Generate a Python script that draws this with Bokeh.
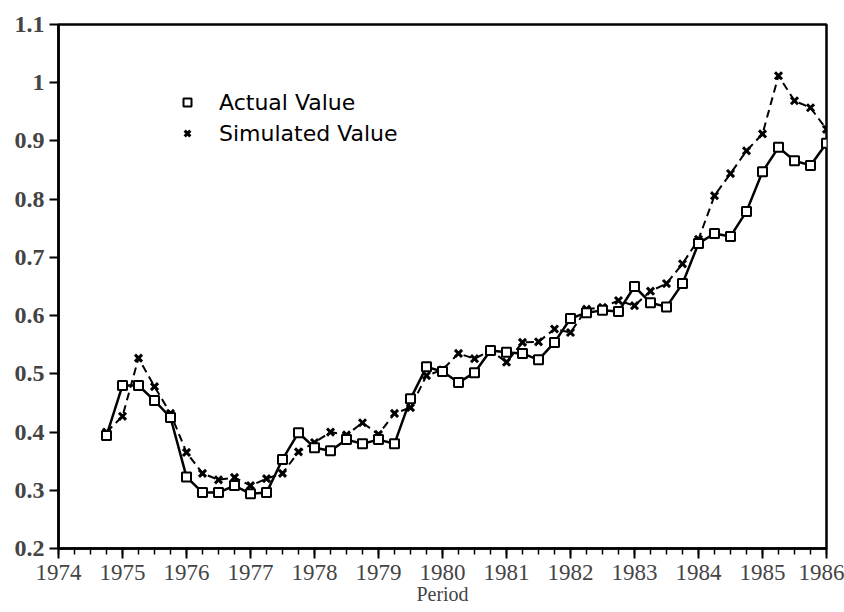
from bokeh.plotting import figure
from bokeh.models import (Range1d, FixedTicker, CustomJSTickFormatter, Legend, LegendItem,
                          ColumnDataSource)
from bokeh.embed import file_html
from bokeh.resources import INLINE

# Quarterly periods (Q4 1974 .. Q1 1986)
period = [1974.75,
          1975.0, 1975.25, 1975.5, 1975.75,
          1976.0, 1976.25, 1976.5, 1976.75,
          1977.0, 1977.25, 1977.5, 1977.75,
          1978.0, 1978.25, 1978.5, 1978.75,
          1979.0, 1979.25, 1979.5, 1979.75,
          1980.0, 1980.25, 1980.5, 1980.75,
          1981.0, 1981.25, 1981.5, 1981.75,
          1982.0, 1982.25, 1982.5, 1982.75,
          1983.0, 1983.25, 1983.5, 1983.75,
          1984.0, 1984.25, 1984.5, 1984.75,
          1985.0, 1985.25, 1985.5, 1985.75,
          1986.0]

actual = [0.394,
          0.480, 0.480, 0.454, 0.425,
          0.323, 0.296, 0.296, 0.308,
          0.294, 0.296, 0.353, 0.399,
          0.373, 0.368, 0.387, 0.380,
          0.387, 0.380, 0.457, 0.512,
          0.504, 0.485, 0.502, 0.540,
          0.537, 0.535, 0.524, 0.554,
          0.595, 0.605, 0.609, 0.607,
          0.650, 0.622, 0.615, 0.655,
          0.724, 0.741, 0.736, 0.779,
          0.847, 0.889, 0.866, 0.858,
          0.896]

simulated = [0.400,
             0.427, 0.527, 0.478, 0.432,
             0.365, 0.329, 0.318, 0.322,
             0.308, 0.320, 0.329, 0.366,
             0.382, 0.400, 0.395, 0.416,
             0.396, 0.432, 0.442, 0.497,
             0.507, 0.535, 0.526, 0.540,
             0.520, 0.554, 0.555, 0.577,
             0.571, 0.611, 0.614, 0.626,
             0.617, 0.642, 0.655, 0.689,
             0.731, 0.806, 0.844, 0.883,
             0.912, 1.012, 0.969, 0.957,
             0.920]

year_ticks = list(range(1974, 1987))
quarter_ticks = [1974 + q / 4 for q in range(0, 49)]
y_ticks = [0.2, 0.3, 0.4, 0.5, 0.6, 0.7, 0.8, 0.9, 1.0, 1.1]

src = ColumnDataSource(dict(period=period, actual=actual, simulated=simulated))

p = figure(width=844, height=612, output_backend="svg", toolbar_location=None,
           x_range=Range1d(1974, 1986), y_range=Range1d(0.2, 1.1),
           min_border_left=58, min_border_right=18, min_border_top=24,
           min_border_bottom=64,
           background_fill_color="white", border_fill_color="white")

p.grid.visible = False
p.outline_line_color = "black"
p.outline_line_width = 2.5

SERIF = "'Liberation Serif'"

# Lines
p.line("period", "simulated", source=src, line_color="black", line_width=2,
       line_dash="8 5")
p.line("period", "actual", source=src, line_color="black", line_width=2.5)

# Markers
r_sim = p.scatter("period", "simulated", source=src, marker="x", size=10,
                  line_color="black", line_width=3)
r_act = p.scatter("period", "actual", source=src, marker="square", size=9,
                  fill_color="white", line_color="black", line_width=2)

# Axes
xa = p.xaxis[0]
xa.ticker = FixedTicker(ticks=year_ticks, minor_ticks=quarter_ticks)
xa.axis_label = "Period"
xa.axis_label_text_font = SERIF
xa.axis_label_text_font_size = "20px"
xa.axis_label_text_font_style = "normal"
xa.axis_label_standoff = 0
xa.major_label_text_font = SERIF
xa.major_label_text_font_size = "23px"
xa.major_label_standoff = 6
xa.major_tick_out = 10
xa.major_tick_in = 0
xa.minor_tick_out = 6
xa.minor_tick_in = 0
xa.axis_line_width = 2.5
xa.major_tick_line_width = 2
xa.minor_tick_line_width = 1.5

ya = p.yaxis[0]
ya.ticker = FixedTicker(ticks=y_ticks)
ya.formatter = CustomJSTickFormatter(code="return String(Math.round(tick * 10) / 10);")
ya.major_label_text_font = SERIF
ya.major_label_text_font_size = "24px"
ya.major_label_text_font_style = "bold"
ya.major_label_standoff = 5
ya.major_tick_out = 9
ya.major_tick_in = 0
ya.minor_tick_out = 0
ya.minor_tick_in = 0
ya.axis_line_width = 2.5
ya.major_tick_line_width = 2

# Legend
legend = Legend(items=[LegendItem(label="Actual Value", renderers=[r_act]),
                       LegendItem(label="Simulated Value", renderers=[r_sim])],
                location=(119, 402), orientation="vertical",
                label_text_font="DejaVu Sans", label_text_font_size="22px",
                label_text_color="black",
                glyph_width=20, glyph_height=26, label_height=26,
                label_standoff=22, spacing=5, padding=0, margin=0,
                border_line_color=None, background_fill_alpha=0)
p.add_layout(legend, "center")

open("out.html", "w").write(file_html(p, INLINE))
